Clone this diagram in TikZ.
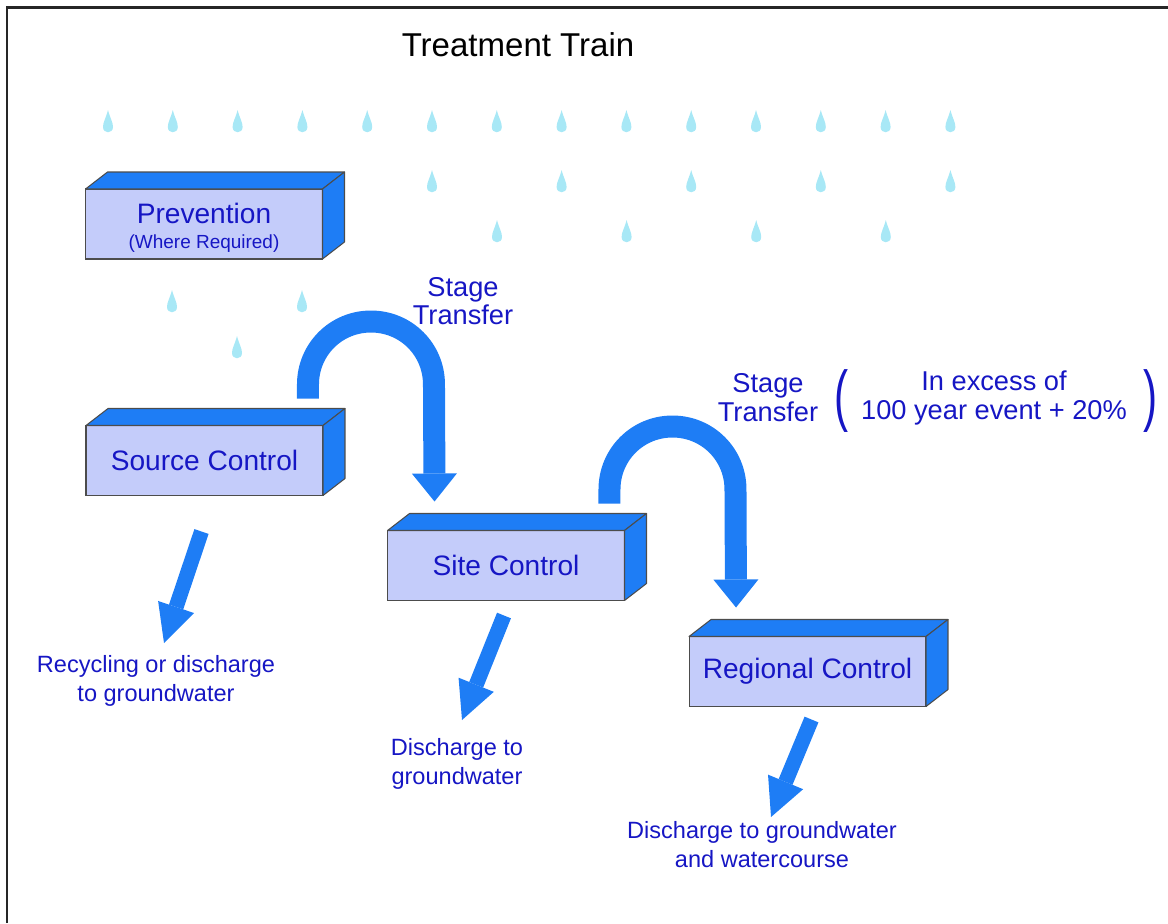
\documentclass[tikz,border=0pt]{standalone}
\usepackage{fontspec}
\setmainfont{Liberation Sans}
\usetikzlibrary{arrows.meta,positioning}
\definecolor{sideblue}{RGB}{30,125,245}
\definecolor{faceblue}{RGB}{196,204,250}
\definecolor{textblue}{RGB}{22,22,196}
\definecolor{dropcol}{RGB}{168,232,246}

\begin{document}
\begin{tikzpicture}[
  x=0.02cm, y=-0.02cm,
  stage/.style={rectangle, draw=black!70, line width=0.6pt, fill=faceblue, outer sep=0pt,
                minimum width=4.74cm, minimum height=1.4cm, align=center,
                text=textblue, font=\fontsize{16}{19}\selectfont},
  boxside/.style={fill=sideblue, draw=black!70, line width=0.6pt, line join=round},
  flow/.style={draw=sideblue, line width=0.44cm,
               -{Triangle[length=0.56cm, width=0.9cm, line width=0pt]}},
  outlet/.style={draw=sideblue, line width=0.3cm,
                 -{Triangle[length=0.76cm, width=0.76cm, line width=0pt]}},
  lbl/.style={text=textblue, align=center, inner sep=0pt},
  bigpar/.style={text=textblue, inner sep=0pt, font=\fontsize{24}{24}\selectfont},
  raindrop/.pic={
    \fill[dropcol] (0,-13) .. controls (2,-5) and (5,-1) .. (5,4)
      .. controls (5,11) and (-5,11) .. (-5,4)
      .. controls (-5,-1) and (-2,-5) .. (0,-13) -- cycle;
  },
]
\useasboundingbox (0,0) rectangle (1168,923);
\draw[line width=0.06cm, black!85] (7,923) -- (7,7) -- (1168,7);

% rain
\foreach \i in {0,...,13} \pic at (108+64.8*\i,123) {raindrop};
\foreach \i in {0,...,4} \pic at (432+129.6*\i,183) {raindrop};
\foreach \i in {0,...,3} \pic at (497+129.6*\i,233) {raindrop};
\pic at (172,303) {raindrop};
\pic at (302,303) {raindrop};
\pic at (237,349) {raindrop};

\node[font=\fontsize{18.8}{22}\selectfont] (title) at (518,45) {Treatment Train};

% the four stages
\node[stage] (prev) at (204,224) {};
\node[lbl, font=\fontsize{16}{19}\selectfont] (prevtxt) at ([shift={(0,4)}]prev.center)
  {Prevention\\[-5pt]{\fontsize{10.8}{12}\selectfont(Where Required)}};
\node[stage] (src)  at (204.5,460.5) {Source Control};
\node[stage] (site) at (506,565.5)   {Site Control};
\node[stage] (reg)  at (807.5,671.5) {Regional Control};

\foreach \b in {prev,src,site,reg} {
  \filldraw[boxside] (\b.north west) -- ++(22,-17) -- ++(237,0) -- (\b.north east) -- cycle;
  \filldraw[boxside] (\b.north east) -- ++(22,-17) -- ++(0,70) -- (\b.south east) -- cycle;
}

% stage transfers
\coordinate (u1) at ([shift={(-15,-27)}]src.north east);
\coordinate (t1) at ([shift={(47,-29)}]site.north west);
\coordinate (u2) at ([shift={(-15,-27)}]site.north east);
\coordinate (t2) at ([shift={(47,-29)}]reg.north west);
\draw[flow] (u1) -- ++(0,-14) .. controls +(0,-35) and +(-35,0) .. ++(63,-63)
  .. controls +(35,0) and +(0,-35) .. ++(63,63) -- (t1);
\draw[flow] (u2) -- ++(0,-14) .. controls +(0,-35) and +(-35,0) .. ++(63,-63)
  .. controls +(35,0) and +(0,-35) .. ++(63,63) -- (t2);

\node[lbl, font=\fontsize{15.5}{16}\selectfont] (st1) at (463,301) {Stage\\Transfer};
\node[lbl, font=\fontsize{15.5}{16.5}\selectfont] (st2) at (768,398) {Stage\\Transfer};
\node[lbl, font=\fontsize{15.5}{16.5}\selectfont] (exc) at (994,398) {In excess of\\100 year event + 20\%};
\node[bigpar] (lpar) at (842,401) {\scalebox{1}[1.6]{(}};
\node[bigpar] (rpar) at (1150,401) {\scalebox{1}[1.6]{)}};

% outflows
\coordinate (d1) at (164,643);
\coordinate (d2) at (462,720);
\coordinate (d3) at (771,817);
\draw[outlet] ([shift={(-3,36)}]src.south) -- (d1);
\draw[outlet] ([shift={(-2,15)}]site.south) -- (d2);
\draw[outlet] ([shift={(4,13)}]reg.south) -- (d3);

\node[lbl, font=\fontsize{13.4}{16.5}\selectfont] (rec) at (156,681) {Recycling or discharge\\to groundwater};
\node[lbl, font=\fontsize{13.4}{16.5}\selectfont] (gw)  at (457,764) {Discharge to\\groundwater};
\node[lbl, font=\fontsize{13.4}{16.5}\selectfont] (wc)  at (762,845) {Discharge to groundwater\\and watercourse};
\end{tikzpicture}
\end{document}
